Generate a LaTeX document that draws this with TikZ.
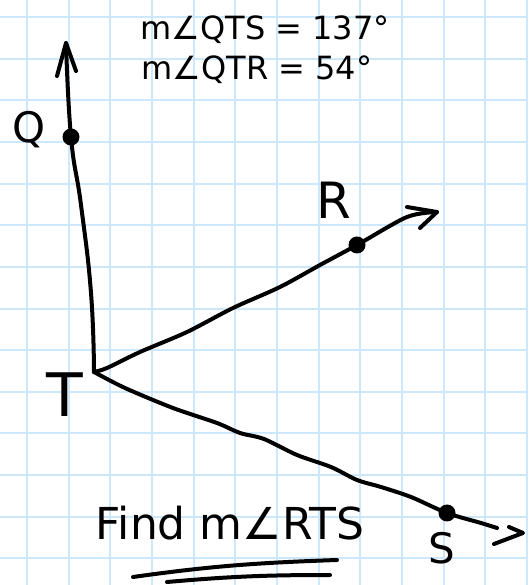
\documentclass[tikz,border=0pt]{standalone}
\usepackage{fontspec}
\setmainfont{DejaVu Sans}
\definecolor{gridblue}{RGB}{205,231,251}
\begin{document}
\begin{tikzpicture}[x=1pt,y=1pt,
  rayline/.style={line width=4pt, line cap=round, line join=round},
  dot/.style={circle, fill=black, inner sep=0pt, minimum size=17pt},
  lbl/.style={inner sep=0pt, text=black},
  gridline/.style={gridblue, line width=2pt}]
\useasboundingbox (0,0) rectangle (528,585);
\fill[white] (0,0) rectangle (528,585);
\foreach \i in {0,...,12} \draw[gridline] ({27+41.65*\i},0) -- ++(0,585);
\foreach \i in {0,...,13} \draw[gridline] (0,{585-17-41.65*\i}) -- ++(528,0);

% points
\coordinate (T) at (94,213);
\node[dot] (Q) at (71,448) {};
\node[dot] (R) at (357,340) {};
\node[dot] (S) at (447,72) {};

% ray TQ
\coordinate (Qtip) at (66,542);
\coordinate (Qa1) at (57,509);
\coordinate (Qa2) at (76,514);
\draw[rayline] plot[smooth, tension=0.8] coordinates {(T) (91,292) (81,380) (Q.center) (Qtip)};
\draw[rayline] (Qa1) -- (Qtip) -- (Qa2);

% ray TR
\coordinate (Rtip) at (437,373);
\coordinate (Ra1) at (407,378);
\coordinate (Ra2) at (420,357);
\draw[rayline] plot[smooth, tension=0.5] coordinates {(T) (107,217) (140,233) (187,253) (233,277) (280,298) (320,320) (R.center) (407,368) (Rtip)};
\draw[rayline] (Ra1) -- (Rtip) -- (Ra2);

% ray TS
\coordinate (Send) at (497,57);
\coordinate (Stip) at (523,52);
\coordinate (Sa1) at (509,58);
\coordinate (Sa2) at (494,41);
\draw[rayline] plot[smooth, tension=0.5] coordinates {(T) (125,197) (173,177) (217,162) (240,152) (264,146) (297,130) (331,118) (357,105) (381,98) (411,88) (S.center) (481,62) (Send)};
\draw[rayline] (Sa1) -- (Stip) -- (Sa2);

% labels
\node[lbl, font=\fontsize{42}{42}\selectfont] (Ql) at (29,455) {Q};
\node[lbl, font=\fontsize{50}{50}\selectfont] (Rl) at (334,385) {R};
\node[lbl, font=\fontsize{42}{42}\selectfont] (Sl) at (442,37) {S};
\node[lbl, font=\fontsize{60}{60}\selectfont] (Tl) at (65,190) {T};

\node[lbl, font=\fontsize{32}{32}\selectfont] (h1) at (265,555) {m∠QTS = 137°};
\node[lbl, font=\fontsize{32}{32}\selectfont] (h2) at (257,515) {m∠QTR = 54°};
\node[lbl, font=\fontsize{44}{44}\selectfont] (find) at (230,62) {Find m∠RTS};

% underline
\coordinate (u1a) at (133,8);
\coordinate (u1b) at (337,25);
\coordinate (u2a) at (167,3);
\coordinate (u2b) at (330,10);
\draw[rayline] (u1a) to[out=8,in=182] (u1b);
\draw[rayline] (u2a) to[out=5,in=180] (u2b);
\end{tikzpicture}
\end{document}
